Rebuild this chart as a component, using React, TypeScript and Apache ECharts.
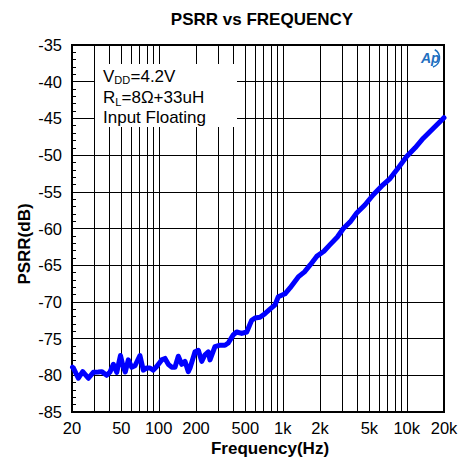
import React, { useEffect, useRef } from "react";
import * as echarts from "echarts";

const TITLE = "PSRR vs FREQUENCY";
const X_NAME = "Frequency(Hz)";
const Y_NAME = "PSRR(dB)";

const Y_MIN = -85;
const Y_MAX = -35;
const Y_STEP = 5;

const F_MIN = 20;
const F_MAX = 20000;

const GRID_FREQS = [
  30, 40, 50, 60, 70, 80, 90, 100,
  200, 300, 400, 500, 600, 700, 800, 900, 1000,
  2000, 3000, 4000, 5000, 6000, 7000, 8000, 9000, 10000,
];

const LABEL_FREQS = [20, 50, 100, 200, 500, 1000, 2000, 5000, 10000, 20000];
const LABEL_TEXTS = ["20", "50", "100", "200", "500", "1k", "2k", "5k", "10k", "20k"];

const FREQ = [
  20.2, 20.5, 22.5, 24.4, 27.1, 29.7, 32.6, 34.7, 38.1, 40.5,
  43.1, 45.9, 49.2, 51.5, 53.8, 56.9, 60.6, 64.4, 70.6, 75.2,
  80.1, 85.1, 90.5, 96.4, 105.8, 112.5, 119.6, 127.4, 135.4, 144,
  153.4, 163, 173.4, 179, 196.4, 208.8, 222.4, 236.4, 251.3, 259.4,
  284.4, 312.6, 342.6, 364, 399.4, 425.6, 467.2, 512.8, 562.4, 598,
  656, 719.4, 790, 867, 922, 982, 1044, 1146, 1336, 1500,
  1660, 1880, 2150, 2410, 2750, 3084, 3500, 3954, 4600, 5380,
  6300, 7345, 8600, 10000, 11700, 13620, 16500, 19720, 20000,
];

const PSRR = [
  -78.9, -79.0, -80.4, -79.5, -80.4, -79.6, -79.55, -79.5, -80.0, -79.55,
  -78.5, -79.6, -77.3, -78.7, -79.55, -77.9, -78.9, -78.7, -77.3, -79.3,
  -79.0, -79.0, -79.3, -78.8, -77.9, -77.7, -78.5, -78.9, -78.9, -77.4,
  -78.5, -78.1, -79.5, -79.0, -76.8, -76.6, -78.1, -77.2, -76.8, -77.9,
  -76.1, -75.9, -75.9, -75.6, -74.5, -74.1, -74.3, -74.1, -72.5, -72.2,
  -72.1, -71.6, -71.0, -70.4, -69.3, -69.1, -68.9, -68.1, -66.6, -65.9,
  -65.0, -63.8, -63.1, -62.2, -61.2, -60.0, -59.1, -57.9, -56.8, -55.4,
  -54.2, -53.2, -51.7, -50.2, -49.0, -47.7, -46.3, -45.0, -44.9,
];

const FONT = 'Arial, "Liberation Sans", sans-serif';

export default function App() {
  const ref = useRef<HTMLDivElement>(null);

  useEffect(() => {
    if (!ref.current) return;
    const chart = echarts.init(ref.current, undefined, { renderer: "svg" });

    const lineData = FREQ.map((f, i) => [Math.log10(f), PSRR[i]]);
    const gridData = GRID_FREQS.map((f) => [Math.log10(f), Y_MIN]);
    const labelData = LABEL_FREQS.map((f) => [Math.log10(f), Y_MIN]);

    const txt = (x: number, y: number, text: string, size: number) => ({
      type: "text",
      x,
      y,
      z: 60,
      style: { text, fill: "#000", font: `${size}px ${FONT}`, textVerticalAlign: "middle" },
    });

    const option: any = {
      animation: false,
      backgroundColor: "#ffffff",
      grid: {
        left: 72,
        right: 18,
        top: 45,
        bottom: 50,
        show: true,
        borderColor: "#000000",
        borderWidth: 2,
        backgroundColor: "transparent",
      },
      xAxis: {
        type: "value",
        min: Math.log10(F_MIN),
        max: Math.log10(F_MAX),
        axisLine: { show: false },
        axisTick: { show: false },
        axisLabel: { show: false },
        splitLine: { show: false },
      },
      yAxis: {
        type: "value",
        min: Y_MIN,
        max: Y_MAX,
        interval: Y_STEP,
        axisLine: { show: true, lineStyle: { color: "#000", width: 2 } },
        axisTick: { show: true, inside: true, length: 4, lineStyle: { color: "#000" } },
        minorTick: { show: true, splitNumber: 5, length: 4, lineStyle: { color: "#000" } },
        axisLabel: { color: "#000", fontSize: 16.5, fontFamily: FONT, margin: 10 },
        splitLine: { show: true, lineStyle: { color: "#000", width: 1 } },
      },
      graphic: [
        {
          type: "text",
          x: 262,
          y: 19,
          z: 100,
          style: {
            text: TITLE,
            fill: "#000",
            font: `bold 17px ${FONT}`,
            textAlign: "center",
            textVerticalAlign: "middle",
          },
        },
        {
          type: "text",
          x: 270,
          y: 448,
          z: 100,
          style: {
            text: X_NAME,
            fill: "#000",
            font: `bold 17px ${FONT}`,
            textAlign: "center",
            textVerticalAlign: "middle",
          },
        },
        {
          type: "text",
          x: 24,
          y: 244,
          rotation: Math.PI / 2,
          z: 100,
          style: {
            text: Y_NAME,
            fill: "#000",
            font: `bold 17px ${FONT}`,
            textAlign: "center",
            textVerticalAlign: "middle",
          },
        },
        {
          type: "rect",
          z: 50,
          shape: { x: 95, y: 64, width: 142, height: 63 },
          style: { fill: "#ffffff" },
        },
        txt(103, 76, "V", 17),
        txt(114.3, 80, "DD", 11),
        txt(130.5, 76, "=4.2V", 17),
        txt(103, 97.5, "R", 17),
        txt(115.3, 101.5, "L", 11),
        txt(121.5, 97.5, "=8Ω+33uH", 17),
        txt(103, 117.5, "Input Floating", 17),
        {
          type: "text",
          x: 421,
          y: 58,
          z: 60,
          style: {
            text: "Ap",
            fill: "#1f6fc0",
            font: `italic bold 14px ${FONT}`,
            textVerticalAlign: "middle",
          },
        },
        {
          type: "arc",
          z: 60,
          shape: { cx: 430, cy: 58, r: 9.5, startAngle: -Math.PI / 3, endAngle: Math.PI / 2.5 },
          style: { stroke: "#1f6fc0", lineWidth: 1.5, fill: "none" },
        },
      ],
      series: [
        {
          type: "custom",
          z: 1,
          silent: true,
          data: gridData,
          encode: { x: 0, y: 1 },
          renderItem: (params: any, api: any) => {
            const x = api.value(0);
            const p1 = api.coord([x, Y_MAX]);
            const p2 = api.coord([x, Y_MIN]);
            return {
              type: "line",
              shape: { x1: Math.round(p1[0]) + 0.5, y1: p1[1], x2: Math.round(p2[0]) + 0.5, y2: p2[1] },
              style: { stroke: "#000", lineWidth: 1 },
            };
          },
        },
        {
          type: "custom",
          z: 1,
          silent: true,
          clip: false,
          data: labelData,
          encode: { x: 0, y: 1 },
          renderItem: (params: any, api: any) => {
            const x = api.value(0);
            const p = api.coord([x, Y_MIN]);
            const label = LABEL_TEXTS[params.dataIndex];
            return {
              type: "text",
              x: p[0],
              y: p[1] + 16,
              style: {
                text: label,
                fill: "#000",
                font: `16.5px ${FONT}`,
                textAlign: "center",
                textVerticalAlign: "middle",
              },
            };
          },
        },
        {
          type: "line",
          z: 70,
          data: lineData,
          showSymbol: false,
          symbol: "none",
          smooth: false,
          lineStyle: { color: "#0000ff", width: 5, join: "round", cap: "round" },
        },
      ],
    };

    chart.setOption(option);
    return () => chart.dispose();
  }, []);

  return (
    <div
      ref={ref}
      style={{ position: "fixed", left: 0, top: 0, width: 462, height: 462 }}
    />
  );
}
